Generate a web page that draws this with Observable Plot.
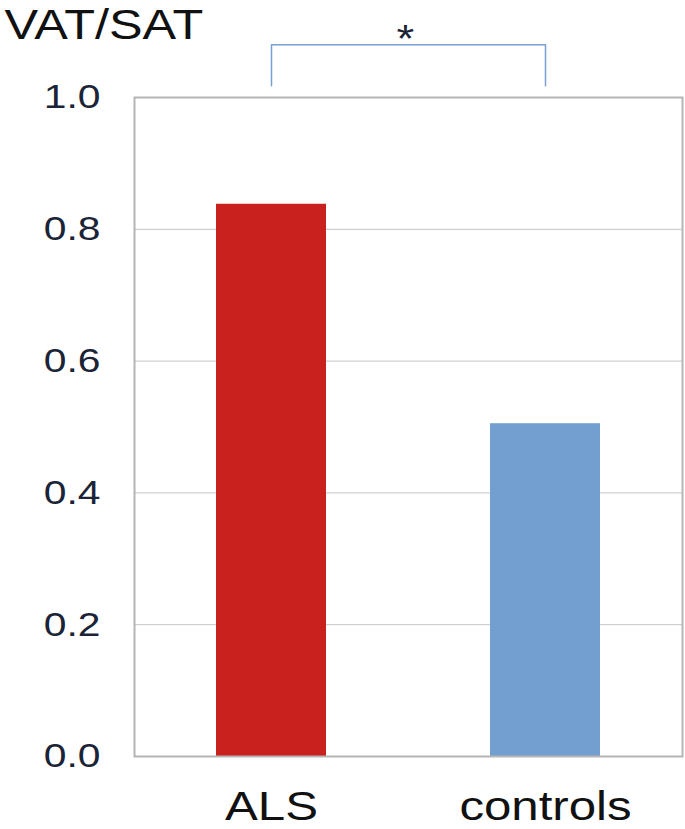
<!DOCTYPE html>
<html><head><meta charset="utf-8">
<script src="https://cdn.jsdelivr.net/npm/d3@7"></script>
<script src="https://cdn.jsdelivr.net/npm/@observablehq/plot@0.6"></script>
<style>body{margin:0;background:#fff}</style>
</head><body><div id="chart"></div>
<script>
const groups = ["ALS", "controls"];
const values = [0.838, 0.505];
const colors = ["#c9211e", "#729fcf"];
const yTicks = [0, 0.2, 0.4, 0.6, 0.8, 1.0];
const gridTicks = [0.2, 0.4, 0.6, 0.8];
const yLabel = "VAT/SAT";
const sigMark = "*";
const bracketTop = 1.08;
const bracketBottom = 1.018;

const data = groups.map((g, i) => ({group: g, value: values[i]}));
const bracket = [
  {group: groups[0], y: bracketBottom},
  {group: groups[0], y: bracketTop},
  {group: groups[1], y: bracketTop},
  {group: groups[1], y: bracketBottom}
];
const bracketColor = "#7a9fd3";

const chart = Plot.plot({
  width: 685, height: 829,
  marginLeft: 134, marginRight: 3, marginTop: 97, marginBottom: 73,
  style: {fontFamily: "'Liberation Sans', Arial, sans-serif", background: "#fff", overflow: "visible"},
  x: {domain: groups, paddingInner: 0.6, paddingOuter: 0.3},
  y: {domain: [0, 1]},
  color: {domain: groups, range: colors},
  marks: [
    Plot.gridY(gridTicks, {stroke: "#c4c4c4", strokeOpacity: 1, strokeWidth: 1}),
    Plot.barY(data, {x: "group", y: "value", fill: "group"}),
    Plot.frame({stroke: "#b5b5b5", strokeWidth: 2}),
    Plot.axisY({ticks: yTicks, tickFormat: d => d.toFixed(1), tickSize: 0, tickPadding: 34, fontSize: 34, fill: "#1b2336", label: null}),
    Plot.axisX({tickSize: 0, tickPadding: 34, fontSize: 41, fill: "#111", label: null}),
    Plot.line(bracket, {x: "group", y: "y", stroke: bracketColor, strokeWidth: 1.5, clip: false}),
    Plot.text([sigMark], {frameAnchor: "top", text: d => d, dy: -72, dx: -3, fontSize: 38, fill: "#1b2336"}),
    Plot.text([yLabel], {frameAnchor: "top-left", text: d => d, dx: -130, dy: -88, textAnchor: "start", fontSize: 42, fill: "#111"})
  ]
});

// original picture is horizontally stretched: widen glyphs around each anchor
const sx = 1.2;
chart.querySelectorAll("text").forEach(t => {
  const tr = t.getAttribute("transform") || "";
  const xa = t.getAttribute("x");
  if (xa != null && !isNaN(+xa)) t.setAttribute("x", +xa / sx);
  t.setAttribute("transform", `${tr} scale(${sx},1)`);
});
document.getElementById("chart").append(chart);
</script>
</body></html>
